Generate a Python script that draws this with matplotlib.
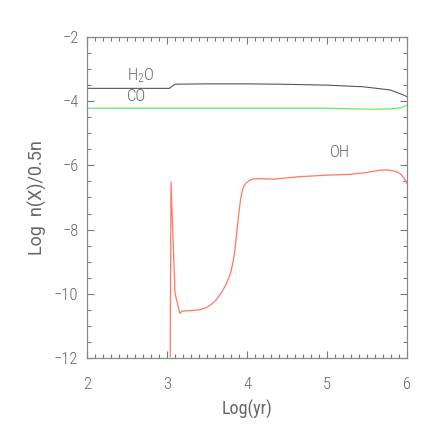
import matplotlib
matplotlib.use("Agg")
import matplotlib.pyplot as plt
from matplotlib.ticker import MultipleLocator

# Data
h2o_x = [2.0, 3.03, 3.10, 3.5, 4.0, 4.41, 5.0, 5.45, 5.79, 5.95, 6.0]
h2o_y = [-3.60, -3.60, -3.47, -3.46, -3.46, -3.47, -3.50, -3.55, -3.65, -3.80, -3.86]

co_x = [2.0, 3.0, 4.0, 5.0, 5.58, 5.8, 5.93, 6.0]
co_y = [-4.22, -4.22, -4.22, -4.22, -4.25, -4.24, -4.20, -4.12]

oh_x = [3.04, 3.05, 3.10, 3.16, 3.19, 3.41, 3.50, 3.56, 3.62, 3.66, 3.70, 3.74, 3.77,
        3.80, 3.83, 3.85, 3.88, 3.90, 3.92, 3.94, 3.96, 3.98, 4.02, 4.08, 4.15, 4.33,
        4.66, 5.04, 5.29, 5.50, 5.66, 5.75, 5.85, 5.91, 5.96, 6.0]
oh_y = [-11.96, -6.51, -9.98, -10.61, -10.54, -10.50, -10.42, -10.32, -10.17, -10.04,
        -9.88, -9.70, -9.52, -9.30, -8.95, -8.60, -7.91, -7.45, -7.05, -6.80, -6.65,
        -6.57, -6.48, -6.42, -6.41, -6.43, -6.35, -6.30, -6.28, -6.22, -6.15, -6.14,
        -6.18, -6.25, -6.38, -6.56]

labels = ["H$_2$O", "CO", "OH"]
label_pos = [(2.5, -3.2), (2.5, -3.85), (5.03, -5.6)]

txt = "#666666"
plt.rcParams['font.family'] = ['Roboto Condensed', 'Roboto', 'DejaVu Sans']
plt.rcParams['font.weight'] = 'light'
plt.rcParams['mathtext.default'] = 'regular'

fig = plt.figure(figsize=(4.36, 4.36), dpi=100)
ax = fig.add_axes([87/436, 78/436, 320/436, 321/436])

ax.plot(h2o_x, h2o_y, color="#555555", lw=0.8)
ax.plot(co_x, co_y, color="#66ee66", lw=0.9)
ax.plot(oh_x, oh_y, color="#ff7766", lw=0.9)

for lab, (x, y) in zip(labels, label_pos):
    ax.text(x, y, lab, color=txt, fontsize=12, va="center", ha="left")

ax.set_xlim(2, 6)
ax.set_ylim(-12, -2)
ax.xaxis.set_major_locator(MultipleLocator(1))
ax.xaxis.set_minor_locator(MultipleLocator(0.1))
ax.yaxis.set_major_locator(MultipleLocator(2))
ax.yaxis.set_minor_locator(MultipleLocator(0.5))
ax.tick_params(which="both", direction="in", top=True, right=True, colors="#777777",
               labelcolor=txt, labelsize=12, width=0.8)
ax.tick_params(which="major", length=5)
ax.tick_params(axis="x", which="major", pad=14)
ax.tick_params(axis="y", which="major", pad=6)
ax.tick_params(which="minor", length=3)
for s in ax.spines.values():
    s.set_color("#888888")
    s.set_linewidth(0.9)

ax.set_xlabel("Log(yr)", color=txt, fontsize=13, labelpad=5)
ax.set_ylabel("Log  n(X)/0.5n", color=txt, fontsize=13, labelpad=5,
              family=['Roboto', 'DejaVu Sans'])

fig.savefig("out.png", dpi=100, facecolor="white")
